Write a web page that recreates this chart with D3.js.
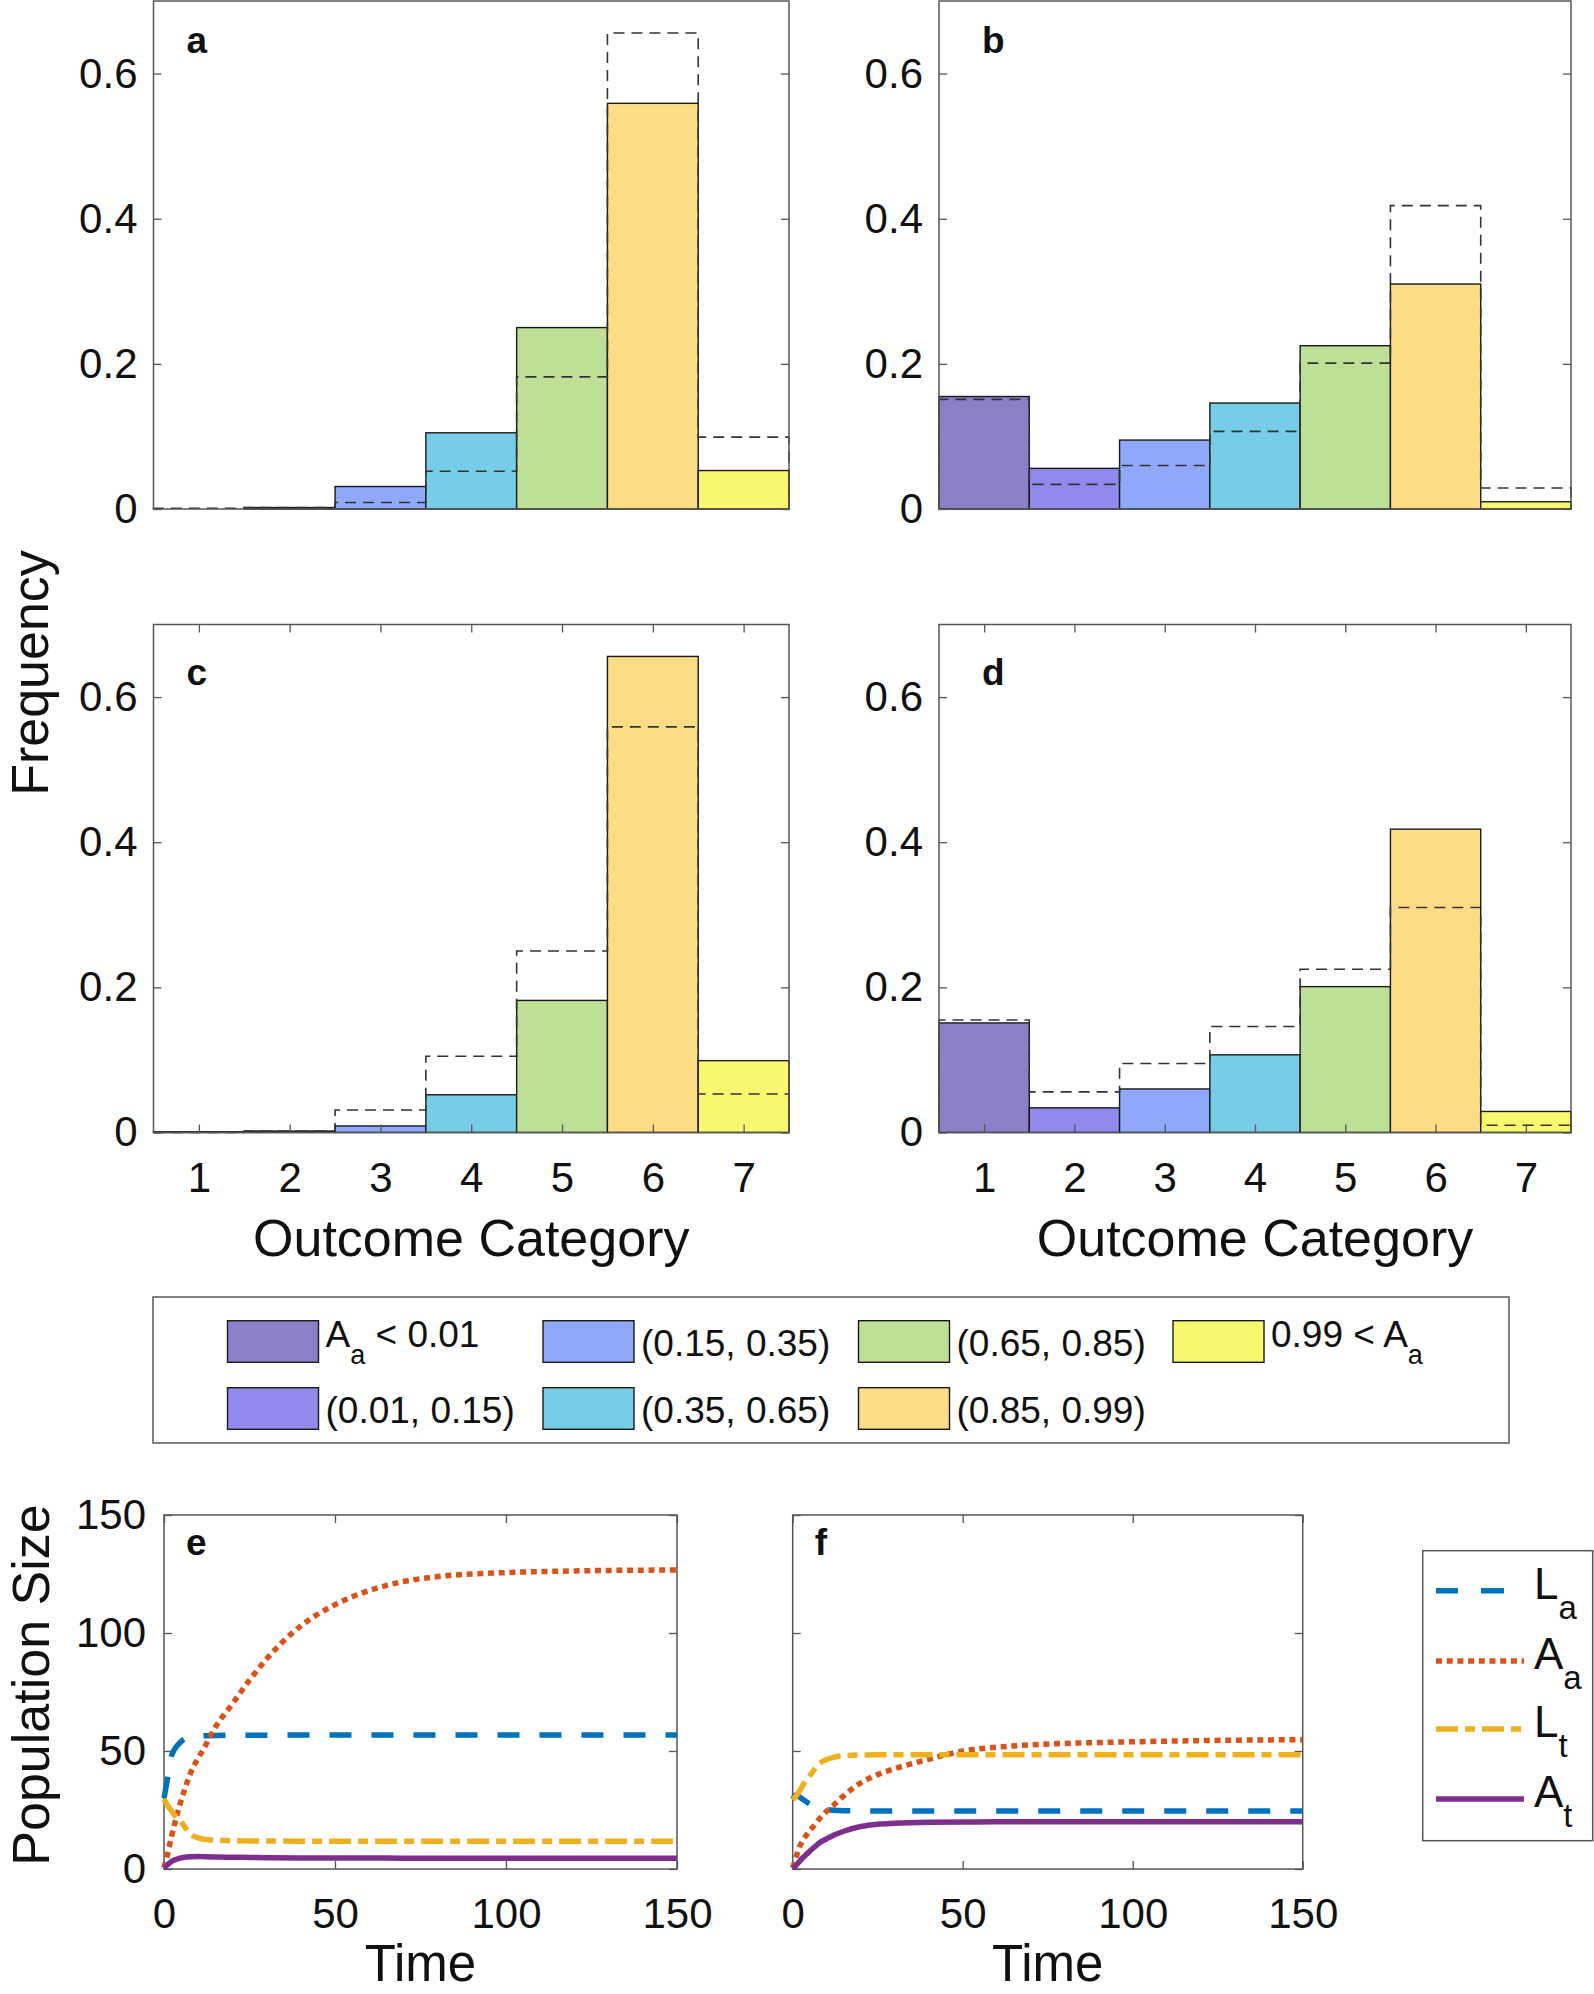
<!DOCTYPE html>
<html><head><meta charset="utf-8">
<script src="https://cdn.jsdelivr.net/npm/d3@7"></script>
<style>
body{margin:0;background:#fff}
svg{display:block}
text{font-family:"Liberation Sans",Arial,Helvetica,sans-serif;white-space:pre}
</style>
</head><body>
<svg id="chart" width="1594" height="1994"></svg>
<script>
// ---------------- DATA ----------------
const categories = [1, 2, 3, 4, 5, 6, 7];
const binLabels = ["A_a < 0.01", "(0.01, 0.15)", "(0.15, 0.35)", "(0.35, 0.65)", "(0.65, 0.85)", "(0.85, 0.99)", "0.99 < A_a"];
const freqTicks = [0, 0.2, 0.4, 0.6];

// frequency histograms (solid bars / dashed comparison)
const freqA = [0, 0.002, 0.031, 0.105, 0.25, 0.559, 0.053];
const freqB = [0.155, 0.056, 0.095, 0.146, 0.225, 0.31, 0.01];
const freqC = [0.001, 0.002, 0.009, 0.052, 0.182, 0.656, 0.099];
const freqD = [0.151, 0.034, 0.06, 0.107, 0.201, 0.418, 0.029];

// time series
const timeSteps = [0, 1, 2, 3, 4, 5, 6, 8, 10, 12, 15, 20, 25, 30, 40, 50, 60, 70, 80, 100, 120, 150];
const eLa = [30, 38, 47, 50.5, 52.5, 54, 55, 55.9, 56.3, 56.5, 56.6, 56.7, 56.7, 56.7, 56.8, 56.8, 56.8, 56.8, 56.8, 56.8, 56.8, 56.8];
const eAa = [0.5, 6, 12.5, 18.5, 24, 29, 33.5, 41.5, 47, 52, 60, 70, 80, 89, 103, 112, 118, 121.8, 123.9, 125.6, 126.3, 126.7];
const eLt = [29.7, 27, 25, 23, 21.5, 20, 18, 14.5, 13.2, 12.5, 12.2, 12, 11.9, 11.9, 11.8, 11.8, 11.8, 11.8, 11.8, 11.8, 11.8, 11.8];
const eAt = [0.5, 1.8, 3, 3.8, 4.3, 4.7, 5, 5.2, 5.3, 5.2, 5.1, 5, 4.9, 4.8, 4.7, 4.7, 4.7, 4.6, 4.6, 4.6, 4.6, 4.6];
const fLa = [29.5, 31.5, 30.5, 29.5, 28.5, 27.5, 26.8, 25.8, 25.2, 24.9, 24.7, 24.6, 24.6, 24.6, 24.6, 24.6, 24.6, 24.6, 24.6, 24.6, 24.6, 24.6];
const fAa = [0.5, 5, 9.4, 12, 14.3, 16.3, 17.9, 21.5, 24.5, 27, 31, 36.5, 40, 42.5, 46.5, 50, 51.6, 52.6, 53.2, 53.9, 54.4, 54.8];
const fLt = [29.2, 31, 33, 35.5, 37.7, 39.5, 41.5, 44.8, 46.4, 47.3, 48, 48.3, 48.4, 48.4, 48.4, 48.4, 48.4, 48.4, 48.4, 48.4, 48.4, 48.4];
const fAt = [0.3, 1.6, 3.2, 4.8, 6.2, 7.5, 8.8, 11.2, 12.8, 14.3, 16, 18, 19, 19.4, 19.8, 19.9, 20, 20, 20, 20, 20, 20];
const timeTicks = [0, 50, 100, 150];
const popTicks = [0, 50, 100, 150];
const seriesNames = ["L_a", "A_a", "L_t", "A_t"];

// ---------------- STYLE ----------------
const binColors = ["#8b7fc8", "#918aec", "#8ea9f9", "#77cde8", "#bee096", "#fcdd86", "#f8f86e"];
const lineColors = ["#0072bd", "#d95319", "#edb120", "#7e2f8e"];
const lineDash = ["22,20", "6,4.7", "22,7,10,7", null];
const legendDash = ["22,23,23,40", "6,4.7", "22,7,10,7", null];
const AX = "#555";
const TXT = "#111";

const svg = d3.select("#chart");

function richText(g, str, x, y, size, subSize, subShift) {
  const t = g.append("text").attr("x", x).attr("y", y).attr("font-size", size).attr("fill", TXT);
  const parts = str.split(/(_\w)/).filter(s => s.length);
  let pending = 0;
  parts.forEach(p => {
    const ts = t.append("tspan");
    if (p[0] === "_") {
      ts.attr("font-size", subSize).attr("dy", subShift + pending).text(p.slice(1));
      pending = -subShift;
    } else {
      if (pending) ts.attr("dy", pending);
      pending = 0;
      ts.text(p);
    }
  });
  return t;
}

function styleAxis(g) {
  g.select(".domain").remove();
  g.selectAll(".tick line").attr("stroke", AX).attr("stroke-width", 1.3);
  g.selectAll(".tick text").attr("fill", TXT).attr("font-size", 42)
    .attr("font-family", '"Liberation Sans",Arial,Helvetica,sans-serif');
}

// ---------------- HISTOGRAM PANELS ----------------
const histPanels = [
  {label: "a", bars: freqA, dashed: freqC, x0: 153.5, x1: 789, y0: 1, y1: 509, xlab: false, ldx: 33, ldy: 52},
  {label: "b", bars: freqB, dashed: freqD, x0: 939, x1: 1571, y0: 1, y1: 509, xlab: false, ldx: 43, ldy: 52},
  {label: "c", bars: freqC, dashed: freqA, x0: 153.5, x1: 789, y0: 624.5, y1: 1132.5, xlab: true, ldx: 33, ldy: 60},
  {label: "d", bars: freqD, dashed: freqB, x0: 939, x1: 1571, y0: 624.5, y1: 1132.5, xlab: true, ldx: 43, ldy: 60}
];

histPanels.forEach(p => {
  const g = svg.append("g");
  const x = d3.scaleLinear().domain([0.5, 7.5]).range([p.x0, p.x1]);
  const y = d3.scaleLinear().domain([0, 0.7]).range([p.y1, p.y0]);

  g.append("rect").attr("x", p.x0).attr("y", p.y0).attr("width", p.x1 - p.x0).attr("height", p.y1 - p.y0)
    .attr("fill", "#fff");

  g.selectAll("rect.bar").data(p.bars.map((v, i) => ({c: categories[i], v, i})).filter(d => d.v > 0))
    .join("rect").attr("class", "bar")
    .attr("x", d => x(d.c - 0.5)).attr("width", d => x(d.c + 0.5) - x(d.c - 0.5))
    .attr("y", d => y(d.v)).attr("height", d => y(0) - y(d.v))
    .attr("fill", d => binColors[d.i]).attr("stroke", "#1a1a1a").attr("stroke-width", 1.4);

  // dashed stairs outline
  let path = d3.path();
  path.moveTo(x(0.5), y(0));
  p.dashed.forEach((v, i) => {
    path.lineTo(x(categories[i] - 0.5), y(v));
    path.lineTo(x(categories[i] + 0.5), y(v));
  });
  path.lineTo(x(7.5), y(0));
  g.append("path").attr("d", path.toString()).attr("fill", "none")
    .attr("stroke", "#333").attr("stroke-width", 1.6).attr("stroke-dasharray", "11,7");

  const fmt = d => d === 0 ? "0" : d3.format(".1f")(d);
  g.append("g").attr("transform", `translate(${p.x0},0)`)
    .call(d3.axisLeft(y).tickValues(freqTicks).tickSize(-8).tickPadding(16).tickFormat(fmt)).call(styleAxis);
  g.append("g").attr("transform", `translate(${p.x1},0)`)
    .call(d3.axisRight(y).tickValues(freqTicks).tickSize(-8).tickFormat("")).call(styleAxis);
  if (p.xlab) {
    g.append("g").attr("transform", `translate(0,${p.y1})`)
      .call(d3.axisBottom(x).tickValues(categories).tickSize(-8).tickPadding(30).tickFormat(d3.format("d"))).call(styleAxis);
    g.append("g").attr("transform", `translate(0,${p.y0})`)
      .call(d3.axisTop(x).tickValues(categories).tickSize(-8).tickFormat("")).call(styleAxis);
    g.append("text").attr("x", (p.x0 + p.x1) / 2).attr("y", 1256).attr("text-anchor", "middle")
      .attr("font-size", 52).attr("fill", TXT).text("Outcome Category");
  }
  g.append("rect").attr("x", p.x0).attr("y", p.y0).attr("width", p.x1 - p.x0).attr("height", p.y1 - p.y0)
    .attr("fill", "none").attr("stroke", AX).attr("stroke-width", 1.5);
  g.append("text").attr("x", p.x0 + p.ldx).attr("y", p.y0 + p.ldy).attr("font-size", 37)
    .attr("font-weight", "bold").attr("fill", TXT).text(p.label);
});

svg.append("text").attr("transform", "translate(48,673) rotate(-90)").attr("text-anchor", "middle")
  .attr("font-size", 52).attr("fill", TXT).text("Frequency");

// ---------------- CATEGORY LEGEND ----------------
const leg = svg.append("g");
leg.append("rect").attr("x", 153).attr("y", 1297).attr("width", 1356).attr("height", 146)
  .attr("fill", "#fff").attr("stroke", AX).attr("stroke-width", 1.5);
const colX = [227.5, 543, 858.5, 1173];
const rowY = [1320.7, 1387.7];
binLabels.forEach((lab, i) => {
  const cx = colX[Math.floor(i / 2)], ry = rowY[i % 2];
  leg.append("rect").attr("x", cx).attr("y", ry).attr("width", 91).attr("height", 41.6)
    .attr("fill", binColors[i]).attr("stroke", "#1a1a1a").attr("stroke-width", 1.4);
  const hasSub = lab.includes("_");
  richText(leg, lab, cx + 98, ry + 20.8 + (hasSub ? 5 : 14), 37, 27, 17);
});

// ---------------- TIME PANELS ----------------
const timePanels = [
  {label: "e", series: [eLa, eAa, eLt, eAt], x0: 164, x1: 677, ylab: true},
  {label: "f", series: [fLa, fAa, fLt, fAt], x0: 792.7, x1: 1302.7, ylab: false}
];
const tY0 = 1515, tY1 = 1869;
timePanels.forEach((p, pi) => {
  const g = svg.append("g");
  const x = d3.scaleLinear().domain([0, 150]).range([p.x0, p.x1]);
  const y = d3.scaleLinear().domain([0, 150]).range([tY1, tY0]);
  const clipId = "clip" + pi;
  svg.append("clipPath").attr("id", clipId).append("rect")
    .attr("x", p.x0 - 3).attr("y", tY0).attr("width", p.x1 - p.x0 + 3).attr("height", tY1 - tY0 + 3);
  g.append("g").attr("transform", `translate(${p.x0},0)`)
    .call(d3.axisLeft(y).tickValues(popTicks).tickSize(-8).tickPadding(18).tickFormat(p.ylab ? d3.format("d") : ""))
    .call(styleAxis);
  g.append("g").attr("transform", `translate(${p.x1},0)`)
    .call(d3.axisRight(y).tickValues(popTicks).tickSize(-8).tickFormat("")).call(styleAxis);
  g.append("g").attr("transform", `translate(0,${tY1})`)
    .call(d3.axisBottom(x).tickValues(timeTicks).tickSize(-8).tickPadding(29).tickFormat(d3.format("d"))).call(styleAxis);
  g.append("g").attr("transform", `translate(0,${tY0})`)
    .call(d3.axisTop(x).tickValues(timeTicks).tickSize(-8).tickFormat("")).call(styleAxis);
  g.append("rect").attr("x", p.x0).attr("y", tY0).attr("width", p.x1 - p.x0).attr("height", tY1 - tY0)
    .attr("fill", "none").attr("stroke", AX).attr("stroke-width", 1.5);
  const line = d3.line().x((d, i) => x(timeSteps[i])).y(d => y(d)).curve(d3.curveMonotoneX);
  const lg = g.append("g").attr("clip-path", `url(#${clipId})`);
  p.series.forEach((s, si) => {
    lg.append("path").attr("d", line(s)).attr("fill", "none").attr("stroke", lineColors[si])
      .attr("stroke-width", 5.5).attr("stroke-dasharray", lineDash[si]);
  });
  g.append("text").attr("x", p.x0 + 22).attr("y", tY0 + 40).attr("font-size", 37)
    .attr("font-weight", "bold").attr("fill", TXT).text(p.label);
  g.append("text").attr("x", (p.x0 + p.x1) / 2).attr("y", 1981).attr("text-anchor", "middle")
    .attr("font-size", 51).attr("fill", TXT).text("Time");
});
svg.append("text").attr("transform", "translate(49,1685) rotate(-90)").attr("text-anchor", "middle")
  .attr("font-size", 52).attr("fill", TXT).text("Population Size");

// ---------------- LINE LEGEND ----------------
const ll = svg.append("g");
ll.append("rect").attr("x", 1422.7).attr("y", 1550.7).attr("width", 170).attr("height", 290)
  .attr("fill", "#fff").attr("stroke", AX).attr("stroke-width", 1.5);
const legY = [1590.7, 1661, 1729, 1799];
seriesNames.forEach((nm, i) => {
  ll.append("line").attr("x1", 1436).attr("x2", 1524).attr("y1", legY[i]).attr("y2", legY[i])
    .attr("stroke", lineColors[i]).attr("stroke-width", 5.5).attr("stroke-dasharray", legendDash[i]);
  richText(ll, nm, 1534, legY[i] + 8, 44, 33, 20);
});
</script>
</body></html>
